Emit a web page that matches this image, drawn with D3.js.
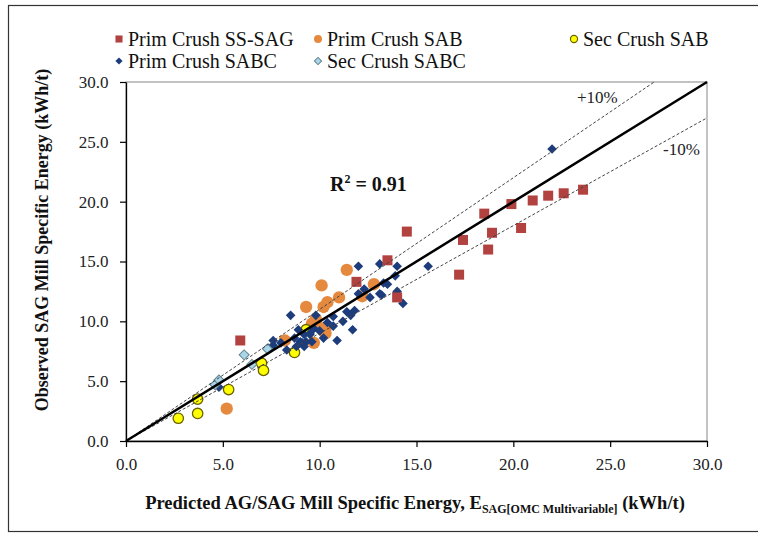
<!DOCTYPE html>
<html><head><meta charset="utf-8">
<script src="https://cdn.jsdelivr.net/npm/d3@7"></script>
<style>body{margin:0;background:#fff}svg{display:block}</style>
</head><body>
<svg id="chart" width="758" height="535"></svg>
<script>
// ---- data ----
const seriesNames = ["Prim Crush SS-SAG","Prim Crush SAB","Sec Crush SAB","Prim Crush SABC","Sec Crush SABC"];
const xTicks = [0,5,10,15,20,25,30];
const yTicks = [0,5,10,15,20,25,30];
const primSSSAG = [[5.9,8.4],[11.9,13.3],[13.5,15.1],[14.5,17.5],[14.0,12.0],[17.2,13.9],[17.4,16.8],[18.5,19.0],[18.9,17.4],[18.7,16.0],[19.9,19.8],[20.4,17.8],[21.0,20.1],[21.8,20.5],[22.6,20.7],[23.6,21.0]];
const primSAB = [[5.2,2.7],[8.2,8.4],[9.3,11.2],[9.6,9.8],[9.7,8.2],[9.9,9.6],[10.1,13.0],[10.2,11.2],[10.3,9.4],[10.4,11.6],[10.3,9.0],[11.0,12.0],[11.4,14.3],[12.2,12.1],[12.8,13.1],[9.8,10.2]];
const secSAB = [[2.7,1.9],[3.7,2.3],[3.7,3.5],[5.3,4.3],[7.0,6.5],[7.1,5.9],[8.7,7.4],[9.3,9.3]];
const primSABC = [[8.5,10.5],[9.8,10.5],[8.9,9.3],[9.2,8.9],[9.5,8.9],[8.7,8.6],[9.0,8.3],[9.3,8.3],[9.6,8.3],[8.8,7.9],[9.2,7.9],[7.6,8.4],[7.6,8.0],[7.3,7.7],[8.3,7.6],[9.7,9.4],[9.5,9.0],[4.8,4.5],[9.1,8.2],
  [12.0,14.6],[13.1,14.8],[14.0,14.6],[12.3,12.7],[12.0,12.3],[13.1,12.3],[13.5,13.1],[13.3,13.2],[14.0,12.5],[14.3,11.5],[12.6,12.0],[11.4,10.8],[11.8,10.9],[11.6,10.5],[11.2,10.0],[11.7,9.3],[10.9,8.4],[10.7,10.4],[10.7,9.6],[10.2,8.6],[15.6,14.6],[22.0,24.4],[13.9,13.8],[13.2,12.2],[10.0,9.2],[10.4,9.9],[8.0,8.2]];
const secSABC = [[4.6,4.7],[4.8,5.1],[6.1,7.2],[6.5,6.4],[7.3,7.7]];
const r2Label = "0.91";

// ---- chart ----
const svg = d3.select("#chart");
const x = d3.scaleLinear().domain([0,30]).range([126,707]);
const y = d3.scaleLinear().domain([0,30]).range([441,82]);
const serif = "'Liberation Serif','Times New Roman',serif";

// outer border
svg.append("rect").attr("x",8.5).attr("y",5.5).attr("width",800).attr("height",526)
  .attr("fill","none").attr("stroke","#333").attr("stroke-width",1.2);

// plot area border
svg.append("rect").attr("x",x(0)).attr("y",y(30)).attr("width",x(30)-x(0)).attr("height",y(0)-y(30))
  .attr("fill","none").attr("stroke","#868686").attr("stroke-width",1);

const gx = svg.append("g").attr("transform",`translate(0,${y(0)})`)
  .call(d3.axisBottom(x).tickValues(xTicks).tickFormat(d3.format(".1f")).tickSize(6).tickSizeOuter(0));
const gy = svg.append("g").attr("transform",`translate(${x(0)},0)`)
  .call(d3.axisLeft(y).tickValues(yTicks).tickFormat(d3.format(".1f")).tickSize(6).tickSizeOuter(0));
[gx,gy].forEach(g=>{
  g.select(".domain").attr("stroke","#000").attr("stroke-width",1.3);
  g.selectAll(".tick line").attr("stroke","#000").attr("stroke-width",1.2);
  g.selectAll(".tick text").attr("font-family",serif).attr("font-size",17).attr("fill","#222");
});
gx.selectAll(".tick text").attr("dy","1.2em");
gy.selectAll(".tick text").attr("dx","-0.5em");

// markers
function shape(type,size){
  if(type==="diamond") return {d:d3.symbol().type(d3.symbolSquare).size(size)(), rot:45};
  return {d:d3.symbol().type(type).size(size)(), rot:0};
}
function drawSeries(data, type, size, fill, stroke, sw){
  const s = shape(type,size);
  svg.append("g").selectAll("path").data(data).join("path")
    .attr("d", s.d)
    .attr("transform", d=>`translate(${x(d[0])},${y(d[1])}) rotate(${s.rot})`)
    .attr("fill", fill).attr("stroke", stroke||"none").attr("stroke-width", sw||0);
}
drawSeries(primSAB, d3.symbolCircle, 120, "#E5893F");
drawSeries(secSAB, d3.symbolCircle, 85, "#FFFF00", "#6B6100", 1.3);
drawSeries(primSABC, "diamond", 46, "#1C3C7C");
drawSeries(secSABC, "diamond", 50, "#A9D6E8", "#62808E", 1);
drawSeries(primSSSAG, d3.symbolSquare, 100, "#B1423F");

// reference lines
const line = d3.line().x(d=>x(d[0])).y(d=>y(d[1]));
const lineData = [[0,0],[30,30]];
const upData = [[0,0],[30/1.1,30]];
const loData = [[0,0],[30,27]];
svg.append("path").attr("d",line(upData)).attr("stroke","#444").attr("stroke-width",1).attr("stroke-dasharray","3,2").attr("fill","none");
svg.append("path").attr("d",line(loData)).attr("stroke","#444").attr("stroke-width",1).attr("stroke-dasharray","3,2").attr("fill","none");
svg.append("path").attr("d",line(lineData)).attr("stroke","#000").attr("stroke-width",2.5).attr("fill","none");

// annotations
svg.append("text").attr("x",577).attr("y",103).attr("font-family",serif).attr("font-size",17).attr("fill","#222").text("+10%");
svg.append("text").attr("x",663).attr("y",155).attr("font-family",serif).attr("font-size",17).attr("fill","#222").text("-10%");
const r2 = svg.append("text").attr("x",330).attr("y",191).attr("font-family",serif).attr("font-size",20).attr("font-weight","bold").attr("fill","#111");
r2.append("tspan").text("R");
r2.append("tspan").attr("font-size",12).attr("dy",-8).text("2");
r2.append("tspan").attr("dy",8).text(" = " + r2Label);

// legend
const legendItems = [
  {name:seriesNames[0], x:119, y:39, type:d3.symbolSquare, size:50, fill:"#B1423F"},
  {name:seriesNames[1], x:318, y:39, type:d3.symbolCircle, size:50, fill:"#E5893F"},
  {name:seriesNames[2], x:574, y:39, type:d3.symbolCircle, size:40, fill:"#FFFF00", stroke:"#6B6100", sw:1.2},
  {name:seriesNames[3], x:119, y:61, type:"diamond", size:26, fill:"#1C3C7C"},
  {name:seriesNames[4], x:318, y:61, type:"diamond", size:26, fill:"#A9D6E8", stroke:"#62808E", sw:1}
];
const lg = svg.append("g").selectAll("g").data(legendItems).join("g");
lg.append("path").attr("d",d=>shape(d.type,d.size).d).attr("transform",d=>`translate(${d.x},${d.y}) rotate(${shape(d.type,d.size).rot})`)
  .attr("fill",d=>d.fill).attr("stroke",d=>d.stroke||"none").attr("stroke-width",d=>d.sw||0);
lg.append("text").attr("x",d=>d.x+9).attr("y",d=>d.y+7).attr("font-family",serif).attr("font-size",20).attr("fill","#111").text(d=>d.name);

// axis titles
const xt = svg.append("text").attr("x",415).attr("y",509).attr("text-anchor","middle")
  .attr("font-family",serif).attr("font-size",18.5).attr("font-weight","bold").attr("fill","#111");
xt.append("tspan").text("Predicted AG/SAG Mill Specific Energy, E");
xt.append("tspan").attr("font-size",12).attr("dy",4).text("SAG[OMC Multivariable]");
xt.append("tspan").attr("dy",-4).text(" (kWh/t)");
svg.append("text").attr("transform","translate(48,240) rotate(-90)").attr("text-anchor","middle")
  .attr("font-family",serif).attr("font-size",18).attr("font-weight","bold").attr("fill","#111")
  .text("Observed SAG Mill Specific Energy (kWh/t)");
</script>
</body></html>
